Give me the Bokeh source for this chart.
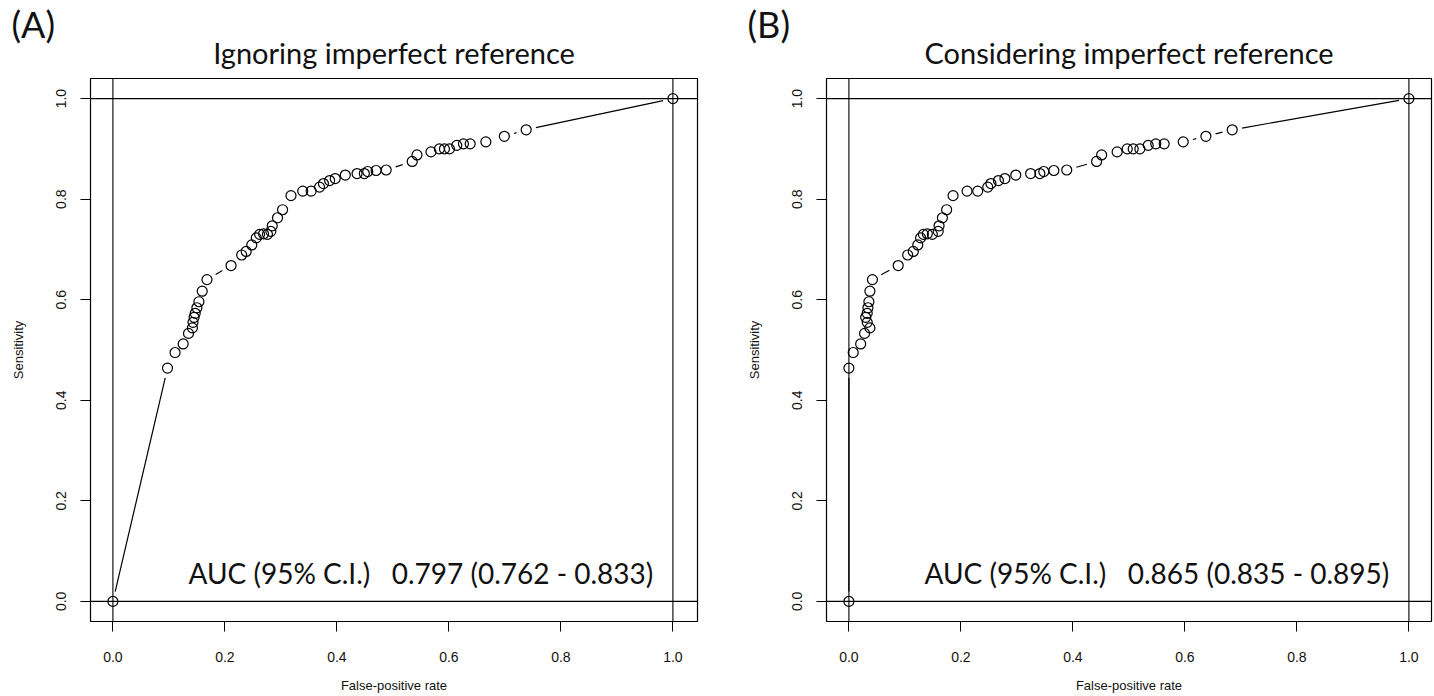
import math
from bokeh.plotting import figure
from bokeh.models import Span, Label, Title, Range1d, FixedTicker, PrintfTickFormatter, ColumnDataSource
from bokeh.layouts import row
from bokeh.embed import file_html
from bokeh.resources import INLINE

# ---------------- data ----------------
fpr_a = [0.0, 0.0975, 0.111, 0.1255, 0.135, 0.142, 0.143, 0.145, 0.147, 0.150, 0.1536,
         0.1595, 0.168, 0.211, 0.230, 0.238, 0.248, 0.256, 0.262, 0.269, 0.276, 0.282,
         0.2845, 0.294, 0.303, 0.318, 0.339, 0.354, 0.369, 0.376, 0.387, 0.397, 0.415,
         0.436, 0.449, 0.455, 0.470, 0.488, 0.5345, 0.543, 0.568, 0.583, 0.592, 0.601,
         0.614, 0.626, 0.638, 0.666, 0.699, 0.738, 1.0]
fpr_b = [0.0, 0.0, 0.0077, 0.021, 0.028, 0.0375, 0.0327, 0.030, 0.0327, 0.034, 0.0357,
         0.0375, 0.042, 0.088, 0.105, 0.115, 0.123, 0.128, 0.133, 0.140, 0.149, 0.1595,
         0.161, 0.167, 0.1745, 0.186, 0.211, 0.230, 0.248, 0.2536, 0.267, 0.2786, 0.298,
         0.3245, 0.341, 0.348, 0.366, 0.389, 0.4423, 0.4513, 0.479, 0.497, 0.5077, 0.5196,
         0.5345, 0.548, 0.563, 0.597, 0.6375, 0.6845, 1.0]
sensitivity = [0.0, 0.464, 0.495, 0.512, 0.533, 0.544, 0.555, 0.565, 0.573, 0.584, 0.596,
               0.617, 0.640, 0.668, 0.689, 0.696, 0.709, 0.723, 0.730, 0.731, 0.730, 0.736,
               0.747, 0.763, 0.779, 0.807, 0.816, 0.816, 0.824, 0.831, 0.837, 0.841, 0.848,
               0.851, 0.851, 0.855, 0.857, 0.858, 0.875, 0.888, 0.894, 0.900, 0.900, 0.900,
               0.907, 0.910, 0.910, 0.914, 0.925, 0.938, 1.0]

tags = ["(A)", "(B)"]
titles = ["Ignoring imperfect reference", "Considering imperfect reference"]
NB = "\u00a0"
auc_texts = ["AUC (95% C.I.)" + NB * 3 + "0.797 (0.762 - 0.833)",
             "AUC (95% C.I.)" + NB * 3 + "0.865 (0.835 - 0.895)"]
tick_values = [0.0, 0.2, 0.4, 0.6, 0.8, 1.0]
x_label = "False-positive rate"
y_label = "Sensitivity"

# ---------------- layout ----------------
H = 696
BT, BB, BL = 78, 75, 90
Y0, Y1 = -0.04, 1.04
X0 = -0.04
SX = 560.0
GAP = 10.0  # px gap of R type="b" lines around points
TFONT = "Lato"


def trimmed(xs, ys, sx, sy, gap):
    x0s, y0s, x1s, y1s = [], [], [], []
    for i in range(len(xs) - 1):
        dx = (xs[i + 1] - xs[i]) * sx
        dy = (ys[i + 1] - ys[i]) * sy
        d = math.hypot(dx, dy)
        if d <= 2 * gap:
            continue
        f = gap / d
        x0s.append(xs[i] + (xs[i + 1] - xs[i]) * f)
        y0s.append(ys[i] + (ys[i + 1] - ys[i]) * f)
        x1s.append(xs[i + 1] - (xs[i + 1] - xs[i]) * f)
        y1s.append(ys[i + 1] - (ys[i + 1] - ys[i]) * f)
    return dict(x0=x0s, y0=y0s, x1=x1s, y1=y1s)


def panel(width, border_right, fpr, sens, tag, title, auc):
    frame_w = width - BL - border_right
    frame_h = H - BT - BB
    x1 = X0 + frame_w / SX
    sy = frame_h / (Y1 - Y0)
    p = figure(width=width, height=H, x_range=Range1d(X0, x1), y_range=Range1d(Y0, Y1),
               output_backend="svg", toolbar_location=None, title=None,
               min_border_left=BL, min_border_right=border_right,
               min_border_top=BT, min_border_bottom=BB)
    p.grid.visible = False
    p.outline_line_color = "black"
    p.outline_line_width = 1.2
    p.background_fill_color = "white"
    p.border_fill_color = "white"
    for ax in (p.xaxis[0], p.yaxis[0]):
        ax.ticker = FixedTicker(ticks=tick_values)
        ax.formatter = PrintfTickFormatter(format="%.1f")
        ax.axis_line_color = None
        ax.major_tick_in = 0
        ax.major_tick_out = 10
        ax.major_tick_line_color = "black"
        ax.minor_tick_line_color = None
        ax.major_label_text_font = "Liberation Sans"
        ax.major_label_text_font_size = "14px"
        ax.major_label_text_color = "#111111"
        ax.axis_label_text_font = "Liberation Sans"
        ax.axis_label_text_font_size = "13px"
        ax.axis_label_text_font_style = "normal"
        ax.axis_label_text_color = "#111111"
    p.xaxis.axis_label = x_label
    p.yaxis.axis_label = y_label
    p.xaxis.major_label_standoff = 20
    p.xaxis.axis_label_standoff = 13
    p.yaxis.major_label_orientation = "vertical"
    p.yaxis.major_label_standoff = 14
    p.yaxis.axis_label_standoff = 28

    for loc, dim in ((0.0, "width"), (1.0, "width"), (0.0, "height"), (1.0, "height")):
        p.add_layout(Span(location=loc, dimension=dim, line_color="black", line_width=1.1))

    seg = ColumnDataSource(trimmed(fpr, sens, SX, sy, GAP))
    p.segment("x0", "y0", "x1", "y1", source=seg, line_color="black", line_width=1.2)
    p.scatter(fpr, sens, size=10, marker="circle", fill_color=None,
              line_color="black", line_width=1.2)

    p.add_layout(Title(text=title, align="center", text_font=TFONT, text_font_size="29px",
                       text_font_style="normal", text_color="#111111", standoff=18), "above")
    p.add_layout(Title(text=tag, align="left", offset=-79, text_font=TFONT,
                       text_font_size="36px", text_font_style="normal",
                       text_color="#111111", standoff=-44.8), "above")
    p.add_layout(Label(x=0.55, y=0.057, text=auc, text_align="center",
                       text_baseline="middle", text_font=TFONT, text_font_size="28px",
                       text_color="#111111"))
    return p


pa = panel(736, 39, fpr_a, sensitivity, tags[0], titles[0], auc_texts[0])
pb = panel(698, 3, fpr_b, sensitivity, tags[1], titles[1], auc_texts[1])

layout = row(pa, pb)
open("out.html", "w").write(file_html(layout, INLINE))
